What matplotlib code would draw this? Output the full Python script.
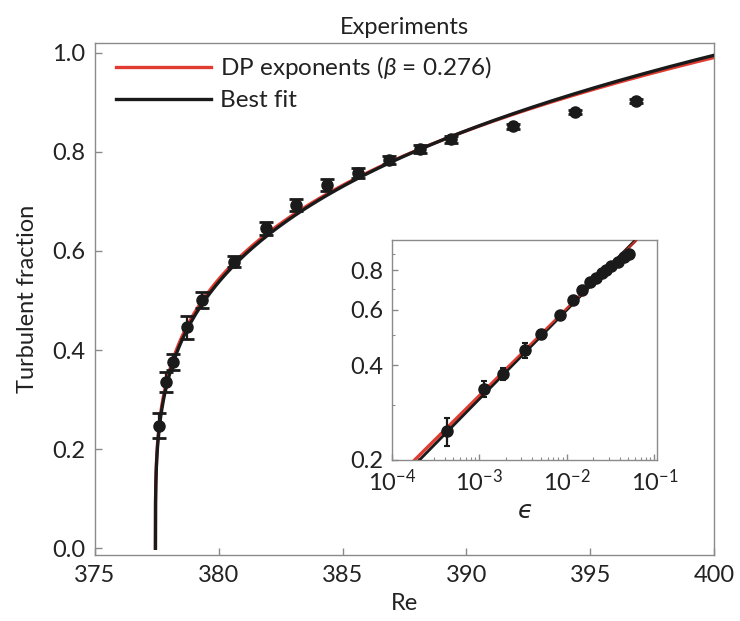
import numpy as np
import matplotlib
matplotlib.use("Agg")
import matplotlib.pyplot as plt
from matplotlib.ticker import FixedLocator, NullFormatter, FormatStrFormatter

plt.rcParams['font.family'] = ['Lato', 'DejaVu Sans']
plt.rcParams['mathtext.fontset'] = 'custom'
plt.rcParams['mathtext.rm'] = 'Lato'
plt.rcParams['mathtext.it'] = 'Lato:italic'
plt.rcParams['mathtext.bf'] = 'Lato:bold'

# ---- data ----
re_values = [377.60, 377.87, 378.14, 378.70, 379.33, 380.61, 381.89, 383.12,
             384.38, 385.63, 386.87, 388.13, 389.37, 391.87, 394.39, 396.85]
turb_fraction = [0.247, 0.336, 0.376, 0.446, 0.501, 0.578, 0.646, 0.693,
                 0.733, 0.758, 0.783, 0.805, 0.825, 0.852, 0.880, 0.903]
frac_error = [0.025, 0.020, 0.016, 0.023, 0.017, 0.011, 0.013, 0.012,
              0.012, 0.010, 0.008, 0.008, 0.007, 0.005, 0.004, 0.004]

# fit parameters (critical Reynolds number, amplitude, exponent)
re_critical = 377.44
dp_amplitude = 2.155
dp_beta = 0.276
fit_amplitude = 2.208
fit_beta = 0.283

x_ticks = [375, 380, 385, 390, 395, 400]
y_ticks = [0.0, 0.2, 0.4, 0.6, 0.8, 1.0]
inset_y_ticks = [0.2, 0.4, 0.6, 0.8]

RED = '#e03c31'
BLACK = '#1a1a1a'
SPINE = '#8a8a8a'
TXT = '#222222'

re_arr = np.array(re_values)
f_arr = np.array(turb_fraction)
e_arr = np.array(frac_error)
eps_data = (re_arr - re_critical) / re_critical

fig = plt.figure(figsize=(7.4, 6.21), dpi=100)
ax = fig.add_axes([0.1284, 0.1063, 0.8365, 0.824])

# fit curves
eps_grid = np.concatenate([[0.0], np.logspace(-8, np.log10((400.5 - re_critical) / re_critical), 600)])
re_grid = re_critical * (1 + eps_grid)
ax.plot(re_grid, dp_amplitude * eps_grid ** dp_beta, color=RED, lw=2.4, zorder=2,
        label=r'DP exponents ($\beta$ = 0.276)')
ax.plot(re_grid, fit_amplitude * eps_grid ** fit_beta, color=BLACK, lw=2.4, zorder=3,
        label='Best fit')
ax.errorbar(re_arr, f_arr, yerr=e_arr, fmt='o', color=BLACK, ms=8, mfc=BLACK, mec=BLACK,
            elinewidth=1.6, capsize=5, capthick=2, zorder=4)

ax.set_xlim(375, 400)
ax.set_ylim(-0.0135, 1.019)
ax.set_xticks(x_ticks)
ax.set_yticks(y_ticks)
ax.yaxis.set_major_formatter(FormatStrFormatter('%.1f'))
ax.tick_params(direction='in', length=5, width=1, color=SPINE, labelsize=17,
               labelcolor=TXT, pad=7, top=False, right=False)
for s in ax.spines.values():
    s.set_color(SPINE)
    s.set_linewidth(1.0)
ax.set_xlabel('Re', fontsize=17, color=TXT, labelpad=5)
ax.set_ylabel('Turbulent fraction', fontsize=17, color=TXT, labelpad=10)
ax.set_title('Experiments', fontsize=17, color=TXT, pad=7)

leg = ax.legend(loc='upper left', frameon=False, fontsize=17.5, handlelength=3.9,
                handletextpad=0.4, labelspacing=0.38, borderaxespad=0.05,
                bbox_to_anchor=(0.016, 1.0))
for t in leg.get_texts():
    t.set_color(TXT)

# inset
axi = fig.add_axes([0.5297, 0.2593, 0.3581, 0.3543])
axi.set_xscale('log')
axi.set_yscale('log')
eps_line = np.logspace(-4.2, -0.9, 300)
axi.plot(eps_line, dp_amplitude * eps_line ** dp_beta, color=RED, lw=2.4, zorder=2)
axi.plot(eps_line, fit_amplitude * eps_line ** fit_beta, color=BLACK, lw=2.0, zorder=3)
axi.plot(eps_line, dp_amplitude * eps_line ** dp_beta, color=RED, lw=1.0, zorder=3.5, alpha=0.9)
axi.errorbar(eps_data, f_arr, yerr=e_arr, fmt='o', color=BLACK, ms=8, mfc=BLACK, mec=BLACK,
             elinewidth=1.6, capsize=2, capthick=1.5, zorder=4)
axi.set_xlim(1e-4, 1.07e-1)
axi.set_ylim(0.2, 1.0)
axi.set_xticks([1e-4, 1e-3, 1e-2, 1e-1])
axi.set_xticklabels([r'$10^{-4}$', r'$10^{-3}$', r'$10^{-2}$', r'$10^{-1}$'])
axi.yaxis.set_major_locator(FixedLocator(inset_y_ticks))
axi.yaxis.set_major_formatter(FormatStrFormatter('%.1f'))
axi.yaxis.set_minor_locator(FixedLocator([0.3, 0.5, 0.7, 0.9]))
axi.yaxis.set_minor_formatter(NullFormatter())
axi.tick_params(which='major', direction='in', length=4, width=1, color=SPINE,
                labelsize=17, labelcolor=TXT, pad=6, top=False, right=False)
axi.tick_params(which='minor', direction='in', length=2.5, width=0.8, color=SPINE,
                top=False, right=False)
for s in axi.spines.values():
    s.set_color(SPINE)
    s.set_linewidth(1.0)
axi.set_xlabel('\u03f5', fontsize=18, color=TXT, labelpad=3,
               fontfamily='DejaVu Sans', fontstyle='italic')

fig.savefig('out.png', dpi=100)
